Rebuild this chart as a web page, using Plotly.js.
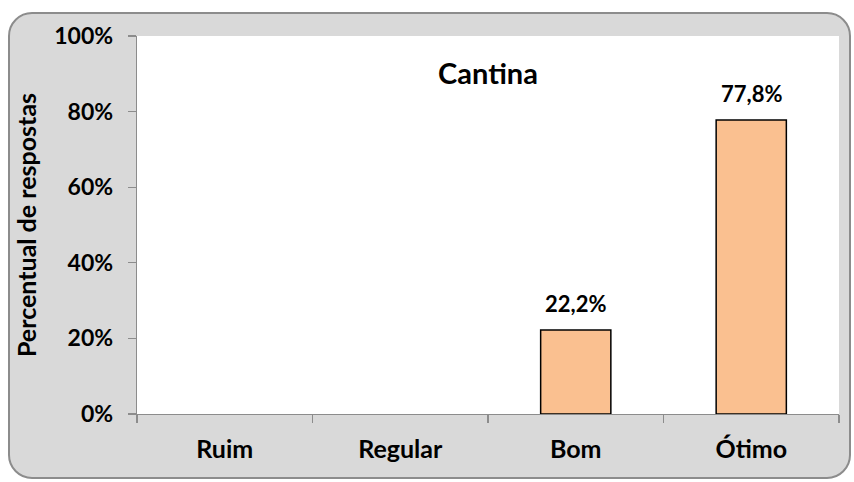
<!DOCTYPE html>
<html>
<head>
<meta charset="utf-8">
<script src="https://cdn.plot.ly/plotly-3.0.1.min.js"></script>
<style>
  html, body { margin: 0; padding: 0; background: #ffffff; }
  #wrap { position: relative; width: 854px; height: 482px; overflow: hidden; }
  #box { position: absolute; left: 8px; top: 12px; width: 843px; height: 467px;
         background: #D9D9D9; border: 2px solid #8C8C8C; border-radius: 24px; box-sizing: border-box; }
  #chart { position: absolute; left: 0; top: 0; width: 854px; height: 482px; }
</style>
</head>
<body>
<div id="wrap">
  <div id="box"></div>
  <div id="chart"></div>
</div>
<script>
const categories = ["Ruim", "Regular", "Bom", "Ótimo"];
const values = [0, 0, 22.2, 77.8];
const yTicks = [0, 20, 40, 60, 80, 100];
const chartTitle = "Cantina";
const yTitle = "Percentual de respostas";

const labels = values.map(v => v > 0 ? v.toFixed(1).replace('.', ',') + '%' : '');
const FONT = "Lato, 'Open Sans', sans-serif";

const trace = {
  type: 'bar',
  x: categories,
  y: values,
  marker: {
    color: '#FAC090',
    line: { color: '#000000', width: values.map(v => v > 0 ? 1.5 : 0) }
  },
  hoverinfo: 'none'
};

const annotations = categories.map((c, i) => ({
  x: c, y: values[i], xref: 'x', yref: 'y',
  text: '<b>' + labels[i] + '</b>',
  showarrow: false, xanchor: 'center', yanchor: 'bottom', yshift: 11,
  font: { family: FONT, size: 22, color: '#000000' }
})).filter(a => a.text !== '<b></b>');

const layout = {
  width: 854,
  height: 482,
  margin: { l: 137, r: 15, t: 36, b: 68 },
  paper_bgcolor: 'rgba(0,0,0,0)',
  plot_bgcolor: '#ffffff',
  showlegend: false,
  bargap: 0.6,
  font: { family: FONT, color: '#000000' },
  annotations: annotations,
  title: {
    text: '<b>' + chartTitle + '</b>',
    font: { family: FONT, size: 29, color: '#000000' },
    x: 0.5, xref: 'paper', xanchor: 'center',
    y: 0.9, yref: 'paper', yanchor: 'middle'
  },
  xaxis: {
    type: 'category',
    showline: true, linecolor: '#8C8C8C', linewidth: 1.3,
    ticks: 'outside', tickson: 'boundaries', ticklen: 8, tickcolor: '#8C8C8C', tickwidth: 1.3,
    showgrid: false, zeroline: false,
    tickfont: { family: FONT, size: 25, color: '#000000', weight: 'bold' },
    ticklabelstandoff: 13
  },
  yaxis: {
    range: [0, 100],
    tickvals: yTicks,
    ticktext: yTicks.map(v => v + '%'),
    showline: true, linecolor: '#8C8C8C', linewidth: 1.3,
    ticks: 'outside', ticklen: 8, tickcolor: '#8C8C8C', tickwidth: 1.3,
    showgrid: false, zeroline: false,
    tickfont: { family: FONT, size: 23, color: '#000000', weight: 'bold' },
    ticklabelstandoff: 10,
    title: {
      text: '<b>' + yTitle + '</b>',
      font: { family: FONT, size: 25, color: '#000000' },
      standoff: 10
    }
  }
};

Plotly.newPlot('chart', [trace], layout, { staticPlot: true, displayModeBar: false });
</script>
</body>
</html>
